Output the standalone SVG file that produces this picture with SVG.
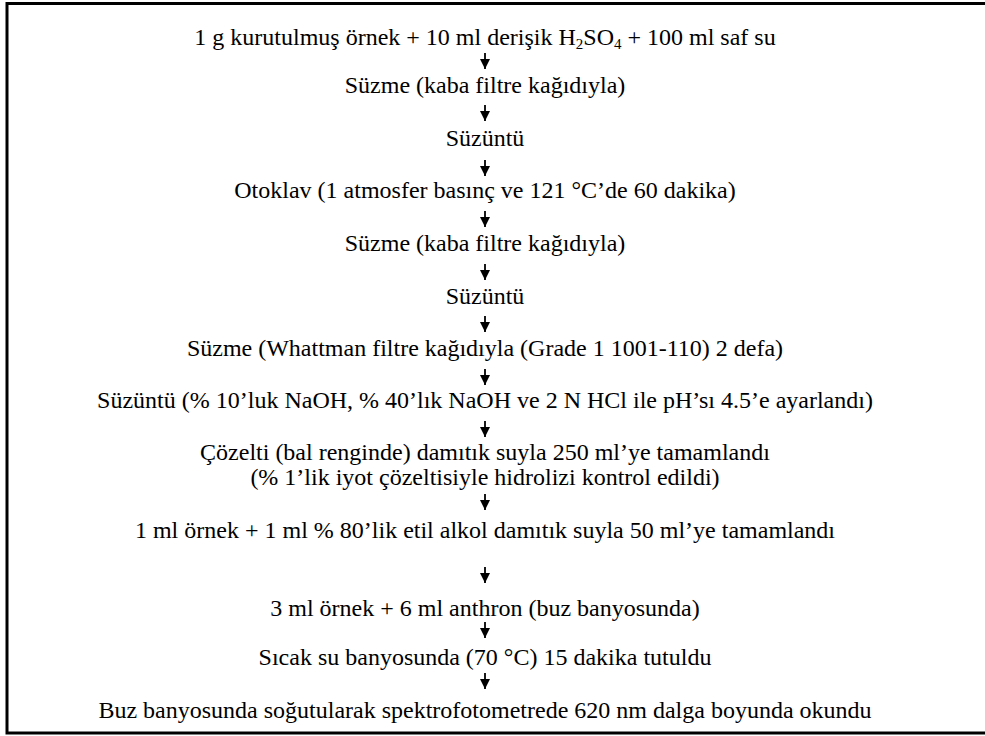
<svg xmlns="http://www.w3.org/2000/svg" width="985" height="736" viewBox="0 0 985 736">
<defs>
<style>
.t{font-family:'Liberation Serif','Times New Roman',serif;font-size:24px;fill:#000;text-anchor:middle}
.sub{font-size:15px}
.a{stroke:#000;stroke-width:1.8;fill:none}
</style>
<marker id="ah" viewBox="0 0 10 10" refX="10" refY="5" markerUnits="userSpaceOnUse" markerWidth="10" markerHeight="11" orient="auto">
<path d="M0,0 L10,5 L0,10 Z" fill="#000"/>
</marker>
</defs>
<rect width="985" height="736" fill="#fff"/>
<rect x="7" y="3.5" width="990" height="729.5" fill="none" stroke="#000" stroke-width="3"/>
<g id="connectors">
<line class="a" x1="485" y1="53" x2="485" y2="69" marker-end="url(#ah)"/>
<line class="a" x1="485" y1="105" x2="485" y2="121" marker-end="url(#ah)"/>
<line class="a" x1="485" y1="160" x2="485" y2="176" marker-end="url(#ah)"/>
<line class="a" x1="485" y1="211" x2="485" y2="227" marker-end="url(#ah)"/>
<line class="a" x1="485" y1="264" x2="485" y2="280" marker-end="url(#ah)"/>
<line class="a" x1="485" y1="316" x2="485" y2="332" marker-end="url(#ah)"/>
<line class="a" x1="485" y1="369" x2="485" y2="385" marker-end="url(#ah)"/>
<line class="a" x1="485" y1="421" x2="485" y2="437" marker-end="url(#ah)"/>
<line class="a" x1="485" y1="494" x2="485" y2="510" marker-end="url(#ah)"/>
<line class="a" x1="485" y1="567" x2="485" y2="583" marker-end="url(#ah)"/>
<line class="a" x1="485" y1="622" x2="485" y2="638" marker-end="url(#ah)"/>
<line class="a" x1="485" y1="673" x2="485" y2="689" marker-end="url(#ah)"/>
</g>
<g id="n1"><text class="t" x="485" y="45">1 g kurutulmuş örnek + 10 ml derişik H<tspan class="sub" dy="4">2</tspan><tspan dy="-4">SO</tspan><tspan class="sub" dy="4">4</tspan><tspan dy="-4"> + 100 ml saf su</tspan></text></g>
<g id="n2"><text class="t" x="485" y="93">Süzme (kaba filtre kağıdıyla)</text></g>
<g id="n3"><text class="t" x="485" y="146">Süzüntü</text></g>
<g id="n4"><text class="t" x="485" y="198">Otoklav (1 atmosfer basınç ve 121 °C’de 60 dakika)</text></g>
<g id="n5"><text class="t" x="485" y="251">Süzme (kaba filtre kağıdıyla)</text></g>
<g id="n6"><text class="t" x="485" y="304">Süzüntü</text></g>
<g id="n7"><text class="t" x="485" y="356">Süzme (Whattman filtre kağıdıyla (Grade 1 1001-110) 2 defa)</text></g>
<g id="n8"><text class="t" x="485" y="408">Süzüntü (% 10’luk NaOH, % 40’lık NaOH ve 2 N HCl ile pH’sı 4.5’e ayarlandı)</text></g>
<g id="n9"><text class="t" x="485" y="460">Çözelti (bal renginde) damıtık suyla 250 ml’ye tamamlandı</text><text class="t" x="485" y="485">(% 1’lik iyot çözeltisiyle hidrolizi kontrol edildi)</text></g>
<g id="n10"><text class="t" x="485" y="538">1 ml örnek + 1 ml % 80’lik etil alkol damıtık suyla 50 ml’ye tamamlandı</text></g>
<g id="n11"><text class="t" x="485" y="616">3 ml örnek + 6 ml anthron (buz banyosunda)</text></g>
<g id="n12"><text class="t" x="485" y="665">Sıcak su banyosunda (70 °C) 15 dakika tutuldu</text></g>
<g id="n13"><text class="t" x="485" y="718">Buz banyosunda soğutularak spektrofotometrede 620 nm dalga boyunda okundu</text></g>
</svg>
